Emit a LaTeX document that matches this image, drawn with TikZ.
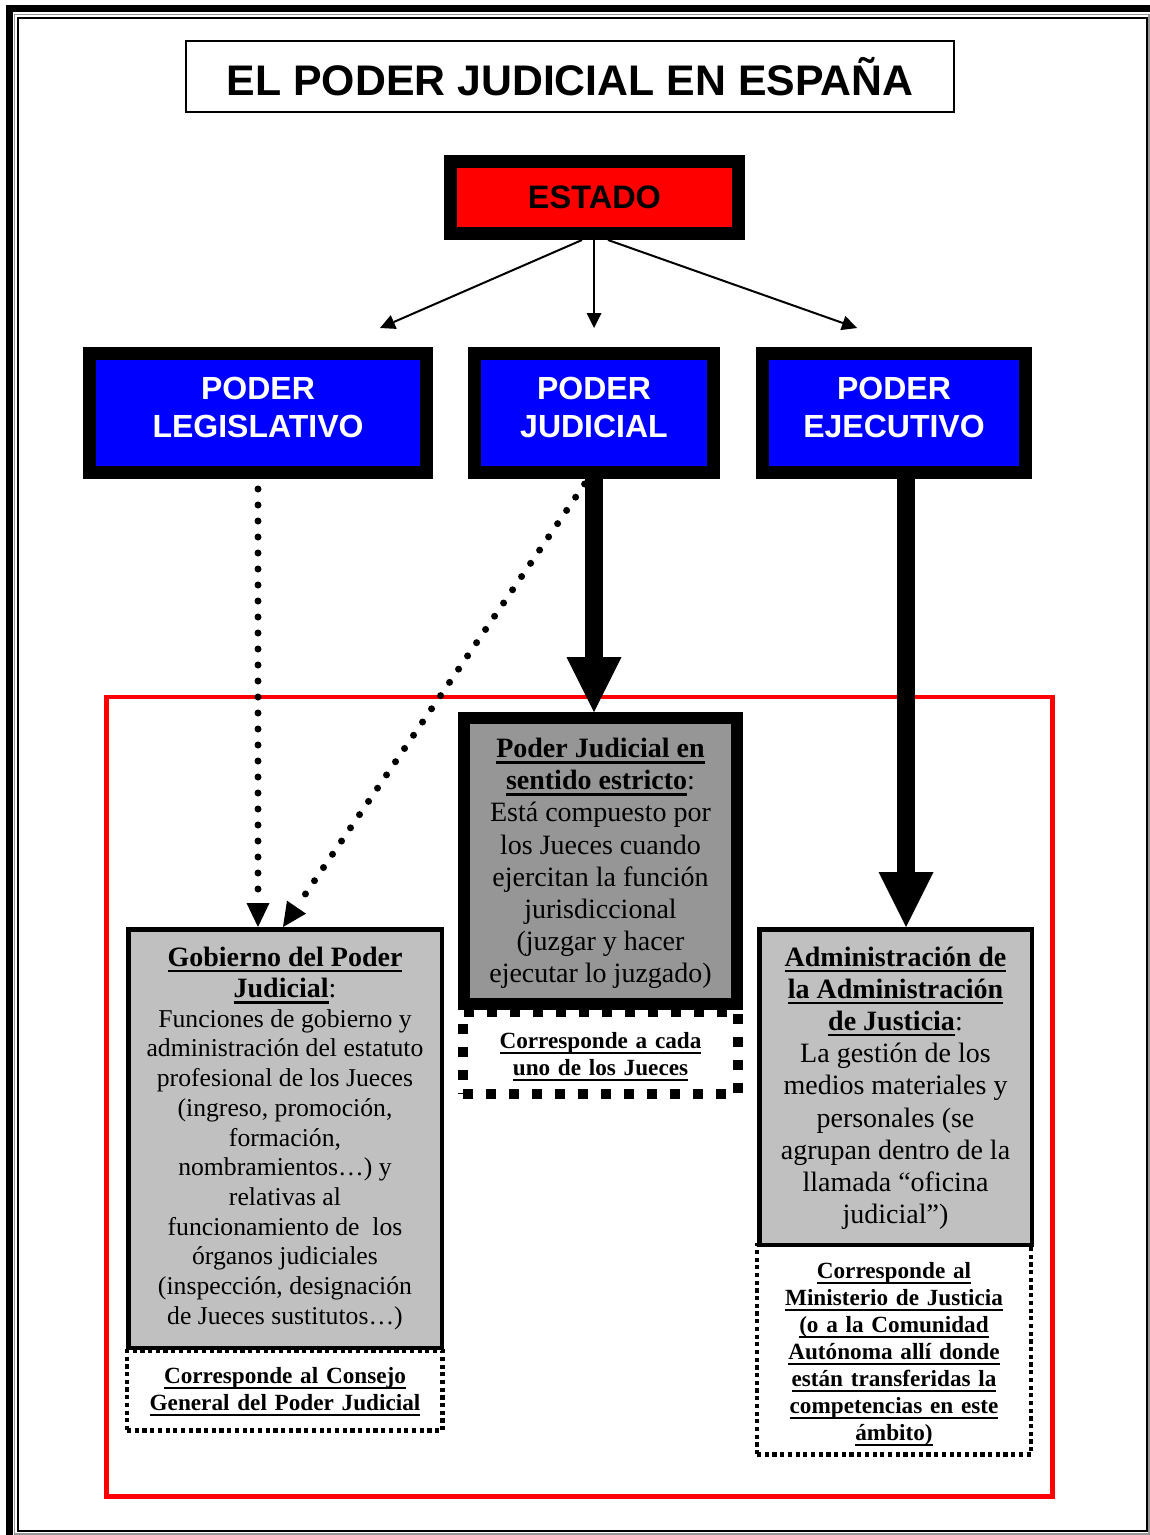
\documentclass[tikz,border=0pt]{standalone}
\usepackage{fontspec}
\setmainfont{Liberation Serif}
\newfontfamily\arialf{Liberation Sans}
\usetikzlibrary{arrows.meta}
\newcommand{\ulx}[1]{\leavevmode\setbox0=\hbox{#1}\rlap{\rule[-6pt]{\wd0}{2.4pt}}\box0}
\newcommand{\setfs}[2]{\fontsize{#1}{#2}\selectfont\spaceskip=\fontdimen2\font\xspaceskip=\fontdimen2\font\relax}
\definecolor{pjblue}{RGB}{0,0,255}
\definecolor{pjred}{RGB}{255,0,0}
\definecolor{lgray}{RGB}{192,192,192}
\definecolor{mgray}{RGB}{150,150,150}
\definecolor{framegray}{RGB}{150,150,150}
\begin{document}
\begin{tikzpicture}[x=1pt,y=-1pt,
  shapebox/.style={inner sep=0pt},
  estadobox/.style={shapebox,draw=black,fill=pjred,line width=13pt},
  bluebox/.style={shapebox,draw=black,fill=pjblue,line width=13pt,minimum height=119pt},
  graybox/.style={shapebox,draw=black,fill=lgray,line width=4.5pt},
  darkbox/.style={shapebox,draw=black,fill=mgray,line width=12pt},
  finedots/.style={shapebox,draw=black,line width=4.5pt,dash pattern=on 4.2pt off 3.5pt},
  coarsedots/.style={shapebox,draw=black,line width=10pt,dash pattern=on 10pt off 13pt},
  txt/.style={anchor=base,align=center,text width=340pt,inner sep=0pt},
  bluetxt/.style={txt,text=white,font=\arialf\bfseries\fontsize{32}{38}\selectfont},
  notetxt/.style={txt,font=\bfseries\fontsize{23.2}{27}\selectfont},
  thinarrow/.style={line width=2pt,-{Triangle[width=15pt,length=15pt,line width=0pt]}},
  dotarrow/.style={line width=7pt,line cap=round,dash pattern=on 0pt off 16pt,-{Triangle[width=23pt,length=24pt,line width=0pt]}},
  thickarrow/.style={line width=18pt,-{Triangle[width=55pt,length=55pt,line width=0pt]}}
]
\useasboundingbox (0,0) rectangle (1150,1535);
\fill[white] (0,0) rectangle (1150,1535);
% page border
\draw[line width=7pt] (9.5,1535) -- (9.5,8.5) -- (1150,8.5);
\draw[framegray,line width=1.5pt] (14.5,14.5) rectangle (1149.2,1534.2);
\draw[line width=2pt] (17.5,17.5) rectangle (1146.5,1530.5);

% title
\node[shapebox,draw=black,line width=2pt,minimum width=768pt,minimum height=71pt] (title) at (570,76.5) {};
\node[anchor=base,inner sep=0pt,font=\arialf\bfseries\fontsize{42.8}{50}\selectfont] (titletext) at (570,95) {EL PODER JUDICIAL EN ESPAÑA};

% red frame
\draw[pjred,line width=4.5pt] (106.5,697) rectangle (1052.5,1496.5);

% ESTADO
\node[estadobox,minimum width=288pt,minimum height=72pt] (estado) at (594.5,197.5) {};
\node[anchor=base,inner sep=0pt,font=\arialf\bfseries\fontsize{32.5}{37}\selectfont] (estadotext) at (594.5,208) {ESTADO};

% powers
\node[bluebox,minimum width=337pt] (leg) at (258,413) {};
\node[bluebox,minimum width=239pt] (jud) at (594,413) {};
\node[bluebox,minimum width=263pt] (ej) at (894,413) {};
\node[bluetxt] (legtext) at (258,399) {PODER\\LEGISLATIVO};
\node[bluetxt] (judtext) at (594,399) {PODER\\JUDICIAL};
\node[bluetxt] (ejtext) at (894,399) {PODER\\EJECUTIVO};

% arrows from ESTADO
\coordinate (legend) at (380,328);
\coordinate (judend) at (594,328);
\coordinate (ejend) at (857,328);
\draw[thinarrow] ([xshift=-12.5pt]estado.south) -- (legend);
\draw[thinarrow] ([xshift=-0.5pt]estado.south) -- (judend);
\draw[thinarrow] ([xshift=13.5pt]estado.south) -- (ejend);

% lower boxes
\node[graybox,minimum width=313.5pt,minimum height=418.5pt] (gob) at (285,1138.5) {};
\node[finedots,minimum width=315.5pt,minimum height=79.5pt] (gobnote) at (284.75,1390.75) {};
\node[darkbox,minimum width=273pt,minimum height=286pt] (pje) at (600.5,861) {};
\node[coarsedots,minimum width=275pt,minimum height=82pt] (pjenote) at (600.5,1053) {};
\node[graybox,minimum width=272.5pt,minimum height=315.5pt] (adm) at (895.5,1087) {};
\node[finedots,minimum width=274pt,minimum height=209.5pt] (admnote) at (894,1349.75) {};

% connectors to lower boxes
\draw[dotarrow,shorten <=10pt] (leg.south) -- ([xshift=-27pt]gob.north);
\draw[dotarrow,shorten <=6pt] ([xshift=-6pt]jud.south) -- ([xshift=-2pt]gob.north);
\draw[thickarrow] (jud.south) -- ([xshift=-6.5pt]pje.north);
\draw[thickarrow] ([xshift=12pt]ej.south) -- ([xshift=10.5pt]adm.north);

% texts
\node[txt] (gobtext) at (285,966) {{\setfs{28}{31.5}\bfseries\ulx{Gobierno del Poder}\\\ulx{Judicial}\mdseries:\par}\setfs{25.7}{29.7}Funciones de gobierno y\\administración del estatuto\\profesional de los Jueces\\(ingreso, promoción,\\formación,\\nombramientos…) y\\relativas al\\funcionamiento de\ \ los\\órganos judiciales\\(inspección, designación\\de Jueces sustitutos…)\par};

\node[txt] (pjetext) at (600.5,757.5) {{\setfs{28}{32.2}\bfseries\ulx{Poder Judicial en}\\\ulx{sentido estricto}\mdseries:\par}\setfs{28}{32.2}Está compuesto por\\los Jueces cuando\\ejercitan la función\\jurisdiccional\\(juzgar y hacer\\ejecutar lo juzgado)\par};

\node[txt] (admtext) at (895.5,966) {{\setfs{28}{32.2}\bfseries\ulx{Administración de}\\\ulx{la Administración}\\\ulx{de Justicia}\mdseries:\par}\setfs{28}{32.2}La gestión de los\\medios materiales y\\personales (se\\agrupan dentro de la\\llamada “oficina\\judicial”)\par};

\node[notetxt] (gobnotetext) at (285,1383) {\ulx{Corresponde al Consejo}\\\ulx{General del Poder Judicial}};
\node[notetxt] (pjenotetext) at (600.5,1048) {\ulx{Corresponde a cada}\\\ulx{uno de los Jueces}};
\node[notetxt] (admnotetext) at (894,1278) {\ulx{Corresponde al}\\\ulx{Ministerio de Justicia}\\\ulx{(o a la Comunidad}\\\ulx{Autónoma allí donde}\\\ulx{están transferidas la}\\\ulx{competencias en este}\\\ulx{ámbito)}};
\end{tikzpicture}
\end{document}
